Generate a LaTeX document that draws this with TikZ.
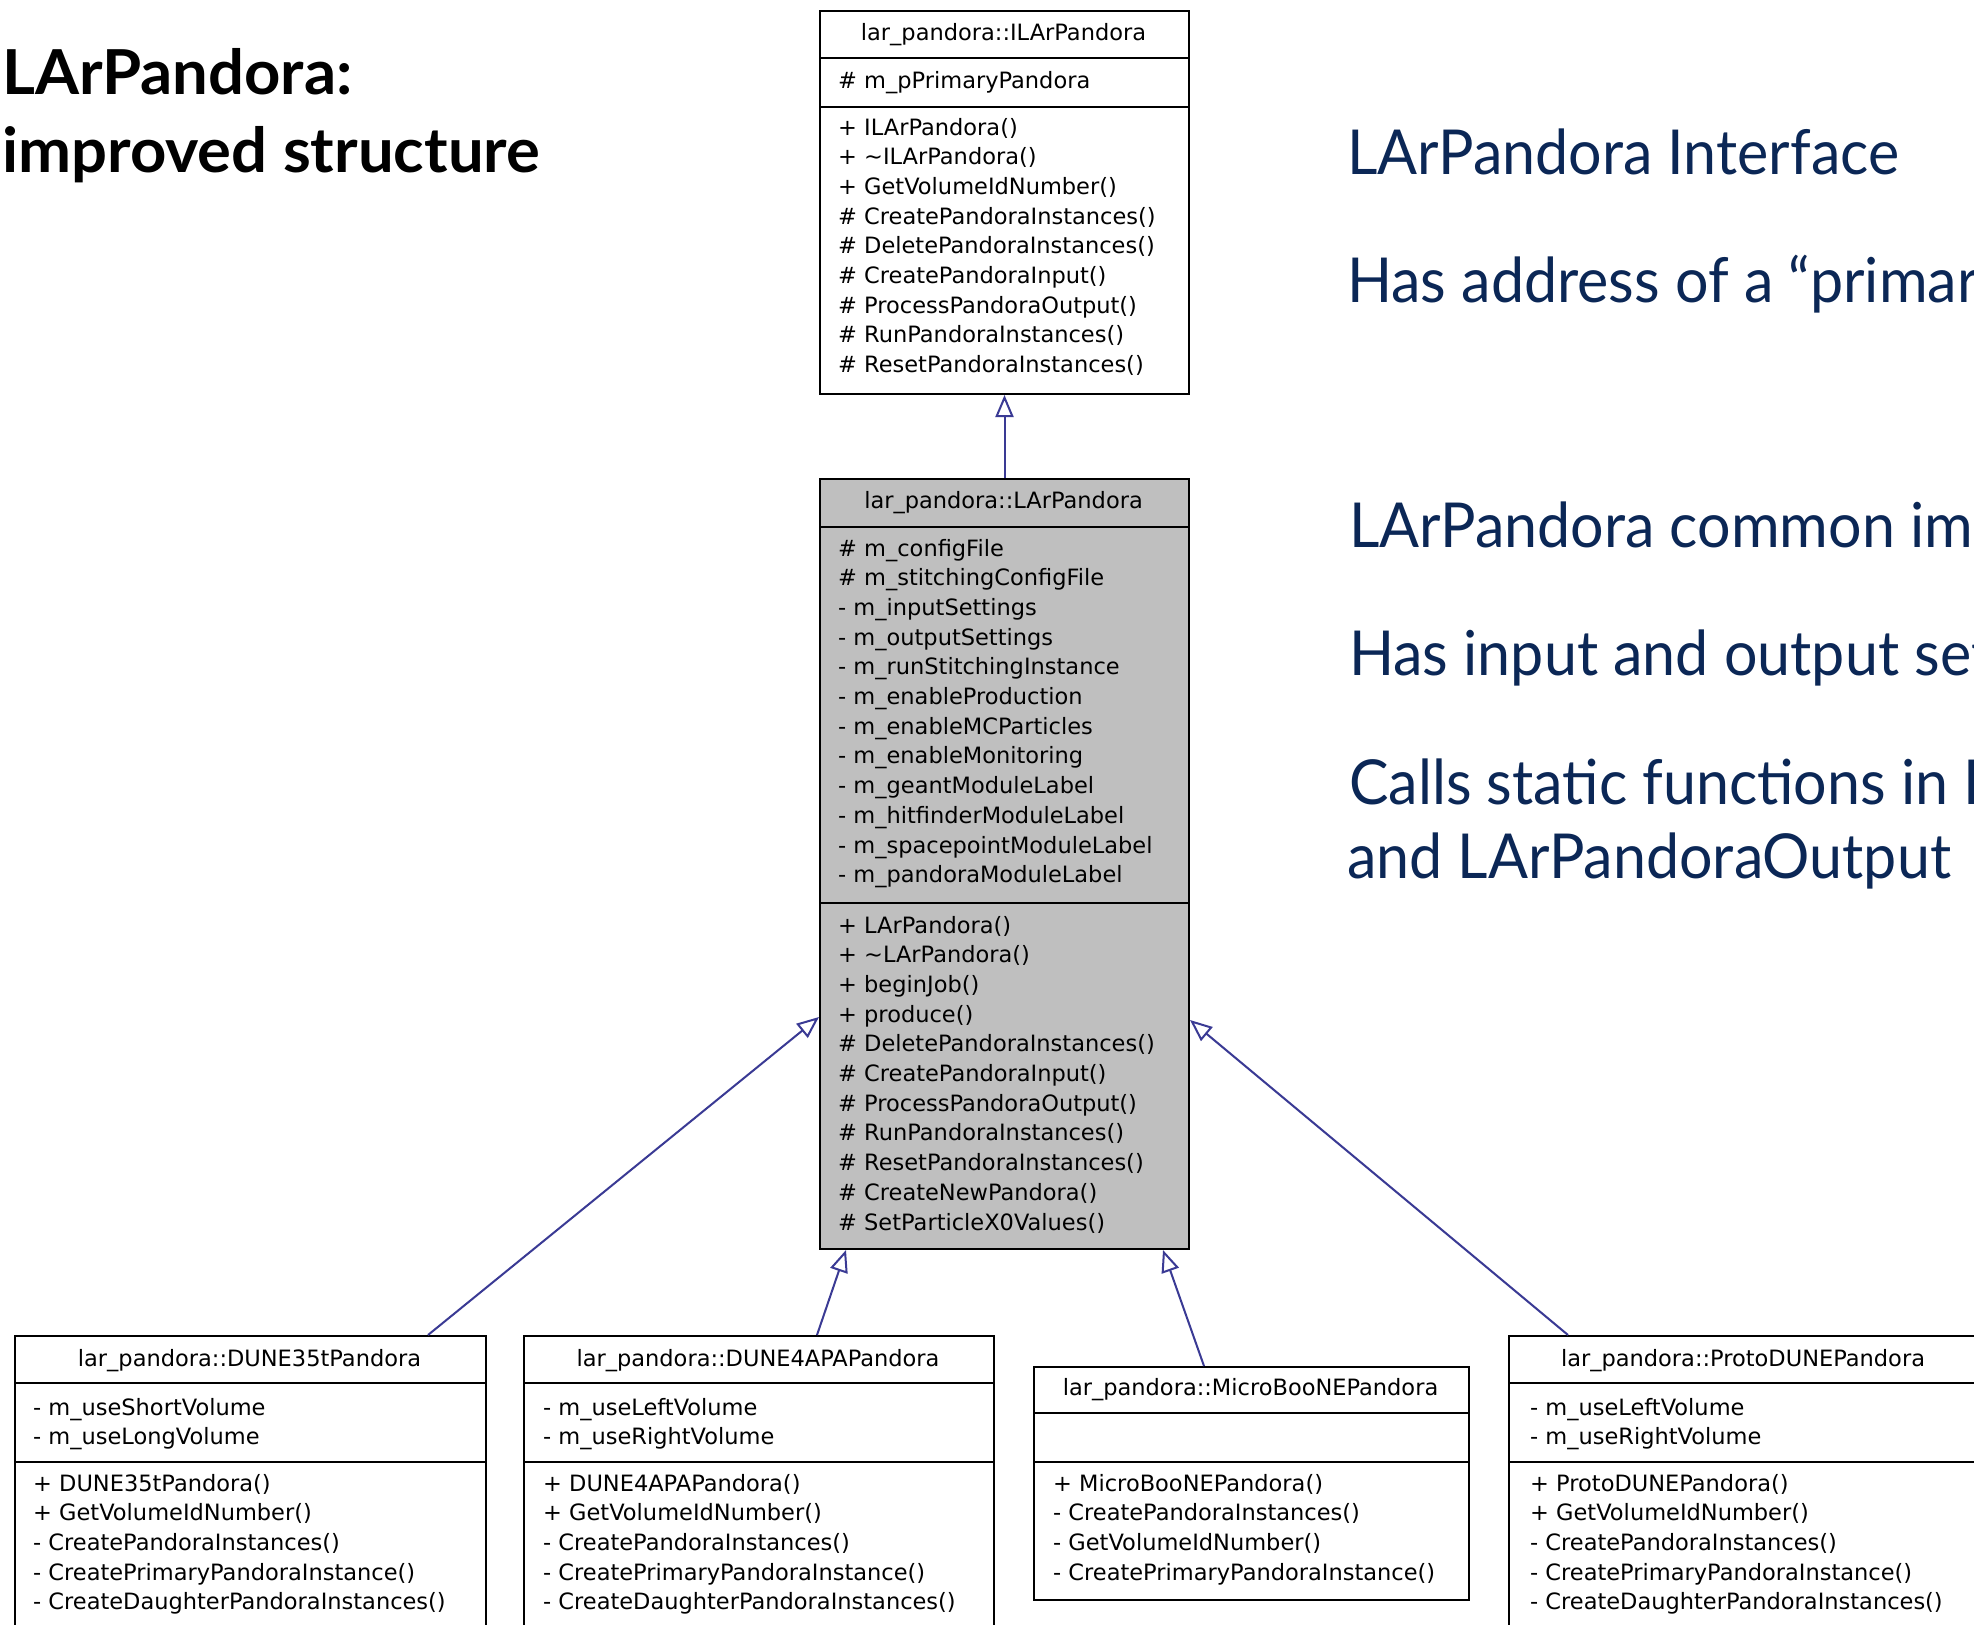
\documentclass[tikz,border=0pt]{standalone}
\usepackage{fontspec}
\usepackage{graphicx}
\usetikzlibrary{arrows.meta,calc}
\newfontfamily\dox{DejaVu Sans}
\newfontfamily\rtf{Lato}
\definecolor{navy}{HTML}{0B2756}
\definecolor{arrowblue}{HTML}{3A3A94}
\definecolor{boxgrey}{HTML}{BFBFBF}
\newcommand\lns[1]{\begin{tabular}[t]{@{}l@{}}#1\end{tabular}}
\newsavebox\measbox
\newlength\measlen
\newlength\measlenb
\begin{document}
\sbox\measbox{\rtf\fontsize{62}{62}\selectfont LArPandora Interface}%
\setlength\measlen{\wd\measbox}%
\sbox\measbox{\rtf\bfseries\fontsize{62}{62}\selectfont improved structure}%
\setlength\measlenb{\wd\measbox}%
\pgfmathsetmacro\rts{552/\measlen}%
\pgfmathsetmacro\tts{538/\measlenb}%
\begin{tikzpicture}[x=1pt,y=-1pt,
  classbox/.style={draw=black, line width=2pt, fill=white, anchor=north west, inner sep=0pt},
  divider/.style={draw=black, line width=2pt},
  dtext/.style={font=\dox\fontsize{22.5}{29.7}\selectfont, inner sep=0pt, text=black},
  rtext/.style={font=\rtf\fontsize{62}{62}\selectfont, text=navy, inner sep=0pt, anchor=base west},
  ttext/.style={font=\rtf\bfseries\fontsize{62}{62}\selectfont, text=black, inner sep=0pt, anchor=base west},
  inh/.style={draw=arrowblue, line width=2pt, -{Triangle[open, length=22pt, width=18pt]}}]
\fill[white] (0,0) rectangle (1974,1625);
\useasboundingbox (0,0) rectangle (1974,1625);

% title
\node[ttext] (title1) at (2,94) {\scalebox{\tts}[1]{LArPandora:}};
\node[ttext] (title2) at (2,172) {\scalebox{\tts}[1]{improved structure}};

% right-hand notes
\node[rtext] (n1) at (1347,174) {\scalebox{\rts}[1]{LArPandora Interface}};
\node[rtext] (n2) at (1347,302) {\scalebox{\rts}[1]{Has address of a “primar}};
\node[rtext] (n3) at (1349,547) {\scalebox{\rts}[1]{LArPandora common im}};
\node[rtext] (n4) at (1349,675) {\scalebox{\rts}[1]{Has input and output set}};
\node[rtext] (n5) at (1349,804) {\scalebox{\rts}[1]{Calls static functions in L}};
\node[rtext] (n6) at (1347,878) {\scalebox{\rts}[1]{and LArPandoraOutput}};

% ILArPandora
\node[classbox, minimum width=369pt, minimum height=383pt] (ilar) at (819,10) {};
\draw[divider] (819,58) -- (1188,58);
\draw[divider] (819,107) -- (1188,107);
\node[dtext, anchor=base] (ilar-t) at (1003.5,40) {lar\_pandora::ILArPandora};
\node[dtext, anchor=base west] (ilar-a) at (838,88) {\# m\_pPrimaryPandora};
\node[dtext, anchor=base west] (ilar-m) at (838,135) {\lns{%
+ ILArPandora()\\
+ \textasciitilde ILArPandora()\\
+ GetVolumeIdNumber()\\
\# CreatePandoraInstances()\\
\# DeletePandoraInstances()\\
\# CreatePandoraInput()\\
\# ProcessPandoraOutput()\\
\# RunPandoraInstances()\\
\# ResetPandoraInstances()}};

% LArPandora
\node[classbox, fill=boxgrey, minimum width=369pt, minimum height=770pt] (lar) at (819,478) {};
\draw[divider] (819,527) -- (1188,527);
\draw[divider] (819,903) -- (1188,903);
\node[dtext, anchor=base] (lar-t) at (1003.5,508) {lar\_pandora::LArPandora};
\node[dtext, anchor=base west] (lar-a) at (838,556) {\lns{%
\# m\_configFile\\
\# m\_stitchingConfigFile\\
- m\_inputSettings\\
- m\_outputSettings\\
- m\_runStitchingInstance\\
- m\_enableProduction\\
- m\_enableMCParticles\\
- m\_enableMonitoring\\
- m\_geantModuleLabel\\
- m\_hitfinderModuleLabel\\
- m\_spacepointModuleLabel\\
- m\_pandoraModuleLabel}};
\node[dtext, anchor=base west] (lar-m) at (838,933) {\lns{%
+ LArPandora()\\
+ \textasciitilde LArPandora()\\
+ beginJob()\\
+ produce()\\
\# DeletePandoraInstances()\\
\# CreatePandoraInput()\\
\# ProcessPandoraOutput()\\
\# RunPandoraInstances()\\
\# ResetPandoraInstances()\\
\# CreateNewPandora()\\
\# SetParticleX0Values()}};

% DUNE35tPandora
\node[classbox, minimum width=471pt, minimum height=300pt] (d35) at (14,1335) {};
\draw[divider] (14,1383) -- (485,1383);
\draw[divider] (14,1462) -- (485,1462);
\node[dtext, anchor=base] (d35-t) at (249.5,1366) {lar\_pandora::DUNE35tPandora};
\node[dtext, anchor=base west] (d35-a) at (33,1415) {\lns{%
- m\_useShortVolume\\
- m\_useLongVolume}};
\node[dtext, anchor=base west] (d35-m) at (33,1491) {\lns{%
+ DUNE35tPandora()\\
+ GetVolumeIdNumber()\\
- CreatePandoraInstances()\\
- CreatePrimaryPandoraInstance()\\
- CreateDaughterPandoraInstances()}};

% DUNE4APAPandora
\node[classbox, minimum width=470pt, minimum height=300pt] (d4) at (523,1335) {};
\draw[divider] (523,1383) -- (993,1383);
\draw[divider] (523,1462) -- (993,1462);
\node[dtext, anchor=base] (d4-t) at (758,1366) {lar\_pandora::DUNE4APAPandora};
\node[dtext, anchor=base west] (d4-a) at (543,1415) {\lns{%
- m\_useLeftVolume\\
- m\_useRightVolume}};
\node[dtext, anchor=base west] (d4-m) at (543,1491) {\lns{%
+ DUNE4APAPandora()\\
+ GetVolumeIdNumber()\\
- CreatePandoraInstances()\\
- CreatePrimaryPandoraInstance()\\
- CreateDaughterPandoraInstances()}};

% MicroBooNEPandora
\node[classbox, minimum width=435pt, minimum height=233pt] (mb) at (1033,1366) {};
\draw[divider] (1033,1413) -- (1468,1413);
\draw[divider] (1033,1462) -- (1468,1462);
\node[dtext, anchor=base] (mb-t) at (1250.5,1395) {lar\_pandora::MicroBooNEPandora};
\node[dtext, anchor=base west] (mb-m) at (1053,1491) {\lns{%
+ MicroBooNEPandora()\\
- CreatePandoraInstances()\\
- GetVolumeIdNumber()\\
- CreatePrimaryPandoraInstance()}};

% ProtoDUNEPandora
\node[classbox, minimum width=470pt, minimum height=300pt] (pd) at (1508,1335) {};
\draw[divider] (1508,1383) -- (1978,1383);
\draw[divider] (1508,1462) -- (1978,1462);
\node[dtext, anchor=base] (pd-t) at (1743,1366) {lar\_pandora::ProtoDUNEPandora};
\node[dtext, anchor=base west] (pd-a) at (1530,1415) {\lns{%
- m\_useLeftVolume\\
- m\_useRightVolume}};
\node[dtext, anchor=base west] (pd-m) at (1530,1491) {\lns{%
+ ProtoDUNEPandora()\\
+ GetVolumeIdNumber()\\
- CreatePandoraInstances()\\
- CreatePrimaryPandoraInstance()\\
- CreateDaughterPandoraInstances()}};

% inheritance connectors
\draw[inh] (lar.north) -- (ilar.south);
\draw[inh] ([xshift=414pt]d35.north west) -- ([yshift=-539pt]lar.north west);
\draw[inh] ([xshift=294pt]d4.north west) -- ([xshift=27pt]lar.south west);
\draw[inh] ([xshift=171pt]mb.north west) -- ([xshift=-27pt]lar.south east);
\draw[inh] ([xshift=60pt]pd.north west) -- ([yshift=-542pt]lar.north east);
\end{tikzpicture}
\end{document}
